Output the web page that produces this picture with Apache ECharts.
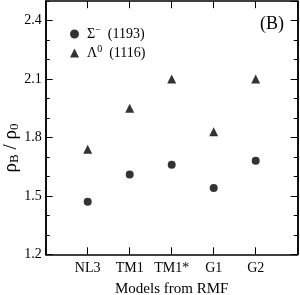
<!DOCTYPE html>
<html><head><meta charset="utf-8">
<script src="https://cdn.jsdelivr.net/npm/echarts@6/dist/echarts.min.js"></script>
<style>html,body{margin:0;padding:0;background:#fff}#c{width:300px;height:295px}</style>
</head><body><div id="c"></div>
<script>
const categories = ['NL3', 'TM1', 'TM1*', 'G1', 'G2'];
const sigmaValues = [1.47, 1.61, 1.66, 1.54, 1.68];
const lambdaValues = [1.74, 1.95, 2.10, 1.83, 2.10];
const yTickLabels = ['1.2', '1.5', '1.8', '2.1', '2.4'];

const F = 'Liberation Serif, Times New Roman, serif';
const chart = echarts.init(document.getElementById('c'));
const line = {show: true, lineStyle: {color: '#000', width: 1.5}};
const yBase = {type: 'value', min: 1.2, max: 2.5, axisLine: line, splitLine: {show: false}};
const xBase = {type: 'value', min: 0, max: 6, interval: 1, axisLine: line, splitLine: {show: false}};
chart.setOption({
  animation: false,
  grid: {left: 45.7, right: 2.3, top: 1.2, bottom: 40.7, outerBoundsMode: 'none', containLabel: false},
  legend: {
    orient: 'vertical', left: 65, top: 20, itemGap: 3, itemWidth: 9, itemHeight: 9,
    textStyle: {fontFamily: F, fontSize: 14, color: '#000', padding: [0, 0, 0, 3],
      rich: {
        b: {fontFamily: F, fontSize: 14, color: '#000'},
        sup: {fontFamily: F, fontSize: 10, color: '#000', verticalAlign: 'top', padding: [0, 0, 8, 0]}
      }},
    formatter: n => n.startsWith('S') ? '{b|Σ}{sup|−}{b|  (1193)}' : '{b|Λ}{sup|0}{b|  (1116)}',
    data: [{name: 'S', icon: 'circle'}, {name: 'L', icon: 'triangle'}]
  },
  xAxis: [
    Object.assign({}, xBase, {position: 'bottom',
      name: 'Models from RMF', nameLocation: 'middle', nameGap: 27,
      nameTextStyle: {fontFamily: F, fontSize: 15, color: '#000'},
      axisTick: {inside: true, length: 7, lineStyle: {color: '#000', width: 1}},
      axisLabel: {fontFamily: F, fontSize: 14, color: '#000', margin: 7,
        formatter: v => categories[v - 1] || ''}}),
    Object.assign({}, xBase, {position: 'top',
      axisTick: {inside: true, length: 7, lineStyle: {color: '#000', width: 1}},
      axisLabel: {show: false}})
  ],
  yAxis: [
    Object.assign({}, yBase, {position: 'left', interval: 0.3,
      axisTick: {inside: true, length: 7, lineStyle: {color: '#000', width: 1}},
      axisLabel: {fontFamily: F, fontSize: 14, color: '#000', margin: 4, showMaxLabel: false,
        formatter: v => { const i = Math.round((v - 1.2) / 0.3); return Math.abs(v - 1.2 - i * 0.3) < 1e-6 ? yTickLabels[i] : ''; }}}),
    Object.assign({}, yBase, {position: 'left', interval: 0.1,
      axisTick: {inside: true, length: 4, lineStyle: {color: '#000', width: 1}}, axisLabel: {show: false}}),
    Object.assign({}, yBase, {position: 'right', interval: 0.3,
      axisTick: {inside: true, length: 7, lineStyle: {color: '#000', width: 1}}, axisLabel: {show: false}}),
    Object.assign({}, yBase, {position: 'right', interval: 0.1,
      axisTick: {inside: true, length: 4, lineStyle: {color: '#000', width: 1}}, axisLabel: {show: false}})
  ],
  graphic: [
    {type: 'text', right: 16, top: 15, style: {text: '(B)', fontFamily: F, fontSize: 18, fill: '#000'}},
    {type: 'text', x: 11, y: 148, rotation: Math.PI / 2,
      style: {text: '{r|ρ}{s|B}{r| / ρ}{s|0}', align: 'center', verticalAlign: 'middle',
        rich: {r: {fontFamily: F, fontSize: 19, fill: '#000'},
               s: {fontFamily: F, fontSize: 13, fill: '#000', verticalAlign: 'bottom', padding: [8, 0, 0, 0]}}}}
  ],
  series: [
    {name: 'S', type: 'scatter', symbol: 'circle', symbolSize: 8, itemStyle: {color: '#000'},
      data: sigmaValues.map((v, i) => [i + 1, v])},
    {name: 'L', type: 'scatter', symbol: 'triangle', symbolSize: 9, itemStyle: {color: '#000'},
      data: lambdaValues.map((v, i) => [i + 1, v])}
  ]
});
</script></body></html>
